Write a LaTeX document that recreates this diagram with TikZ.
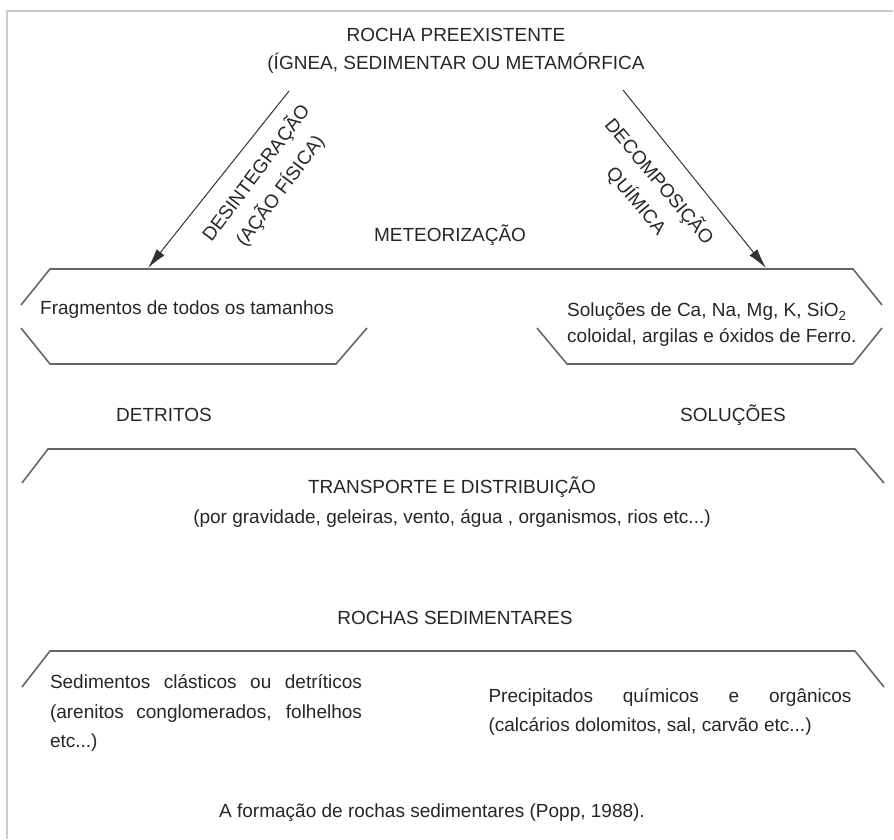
\documentclass[tikz,border=0pt]{standalone}
\usepackage{fontspec}
\setmainfont{Liberation Sans}
\usepackage{tikz}
\usetikzlibrary{positioning}
\usetikzlibrary{arrows.meta}
\usetikzlibrary{calc}
\tikzstyle{titletext}=[font=\fontsize{19}{28}\selectfont, text=black!85, inner sep=0pt, align=center]
\tikzstyle{bodytext}=[font=\fontsize{19}{29.5}\selectfont, text=black!85, inner sep=0pt]
\tikzstyle{outline}=[draw=black!60, line width=1.6pt]
\tikzstyle{flow}=[draw=black!80, line width=1pt, -{Latex[length=20pt,width=10pt]}]
\tikzstyle{frame}=[draw=black!20, line width=1.5pt]

\begin{document}
\begin{tikzpicture}[x=1pt, y=-1pt]
    \useasboundingbox (0,0) rectangle (894,839);
    % frame of the figure
    \draw[frame] (7,839) -- (7,11) -- (893,11);

    % source rock and the two weathering arrows
    \node[titletext] (rocha) at (456,51) {ROCHA PREEXISTENTE\\(ÍGNEA, SEDIMENTAR OU METAMÓRFICA};
    \coordinate (dtop) at (289,91);
    \coordinate (dbot) at (148,268);
    \coordinate (ctop) at (623,90);
    \coordinate (cbot) at (766,268);
    \path[flow] (dtop) -- (dbot);
    \path[flow] (ctop) -- (cbot);
    \node[titletext, font=\fontsize{19}{30}\selectfont, rotate=53] (desint) at (268,182) {DESINTEGRAÇÃO\\(AÇÃO FÍSICA)};
    \node[titletext, font=\fontsize{19}{30}\selectfont, rotate=-50] (decomp) at (648,191) {DECOMPOSIÇÃO\\QUÍMICA};

    % single line labels
    \foreach \pos/\name/\txt in {{(450,235)/meteor/METEORIZAÇÃO}, {(164,415)/detritos/DETRITOS},
        {(733,415)/solucoes/SOLUÇÕES}, {(455,618)/rochas/ROCHAS SEDIMENTARES},
        {(432,813)/fonte/A formação de rochas sedimentares (Popp, 1988).}}
        \node[titletext] (\name) at \pos {\txt};

    % weathering products
    \draw[outline] (21,305) -- (50,269) -- (853,269) -- (882,305);
    \draw[outline] (21,328) -- (50,364) -- (336,364) -- (367,328);
    \draw[outline] (537,328) -- (567,364) -- (853,364) -- (882,328);
    \node[bodytext, anchor=west] (frag) at (40,310) {Fragmentos de todos os tamanhos};
    \node[bodytext, font=\fontsize{19}{26}\selectfont, anchor=west, align=left] (solu) at (567,325)
        {Soluções de Ca, Na, Mg, K, SiO\textsubscript{2}\\coloidal, argilas e óxidos de Ferro.};

    % transport
    \draw[outline] (22,483) -- (48,449) -- (855,449) -- (884,483);
    \node[titletext, font=\fontsize{19}{30}\selectfont] (transp) at (452,502)
        {TRANSPORTE E DISTRIBUIÇÃO\\(por gravidade, geleiras, vento, água , organismos, rios etc...)};

    % sedimentary rocks
    \draw[outline] (22,687) -- (50,651) -- (855,651) -- (884,687);
    \node[bodytext, text width=312pt, align=justify] (clast) at (206,713)
        {Sedimentos clásticos ou detríticos\linebreak (arenitos conglomerados, folhelhos\linebreak etc...)};
    \node[bodytext, text width=363pt, align=justify] (precip) at (670,712)
        {Precipitados químicos e orgânicos\linebreak (calcários dolomitos, sal, carvão etc...)};
\end{tikzpicture}
\end{document}
